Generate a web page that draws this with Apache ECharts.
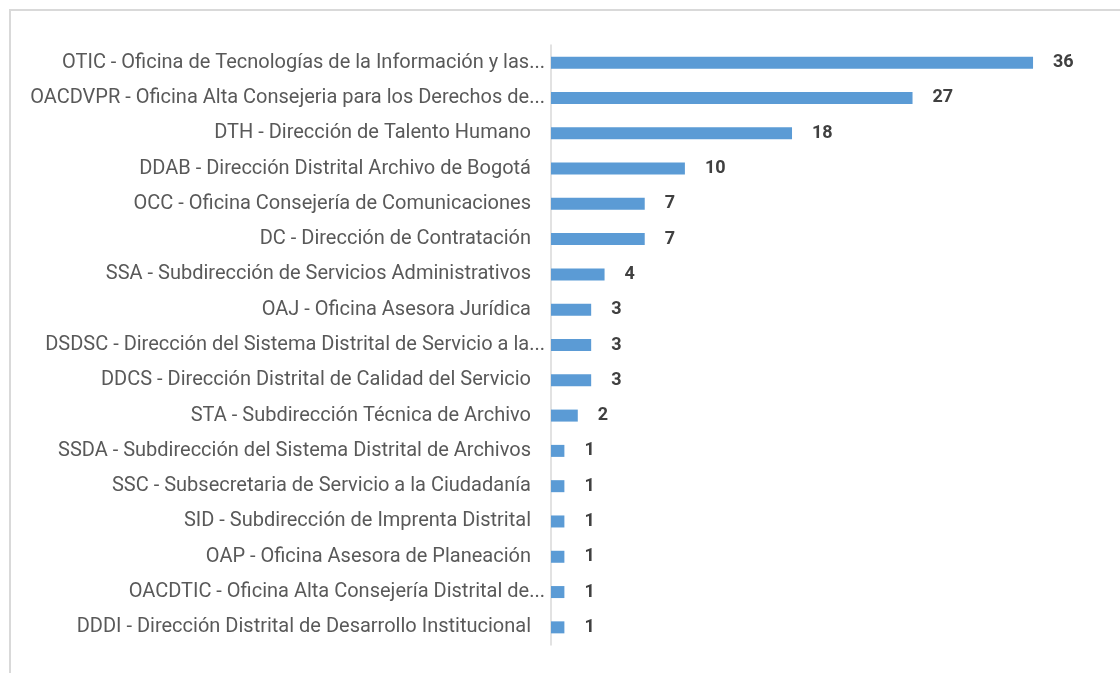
<!DOCTYPE html>
<html>
<head>
<meta charset="utf-8">
<script src="https://cdn.jsdelivr.net/npm/echarts@6/dist/echarts.min.js"></script>
<style>
  html, body { margin: 0; padding: 0; background: #fff; }
  #main { width: 1120px; height: 673px; }
</style>
</head>
<body>
<div id="main"></div>
<script>
// dependencias, de arriba hacia abajo
const categorias = [
  'OTIC - Oficina de Tecnologías de la Información y las...',
  'OACDVPR - Oficina Alta Consejeria para los Derechos de...',
  'DTH - Dirección de Talento Humano',
  'DDAB - Dirección Distrital Archivo de Bogotá',
  'OCC - Oficina Consejería de Comunicaciones',
  'DC - Dirección de Contratación',
  'SSA - Subdirección de Servicios Administrativos',
  'OAJ - Oficina Asesora Jurídica',
  'DSDSC - Dirección del Sistema Distrital de Servicio a la...',
  'DDCS - Dirección Distrital de Calidad del Servicio',
  'STA - Subdirección Técnica de Archivo',
  'SSDA - Subdirección del Sistema Distrital de Archivos',
  'SSC - Subsecretaria de Servicio a la Ciudadanía',
  'SID - Subdirección de Imprenta Distrital',
  'OAP - Oficina Asesora de Planeación',
  'OACDTIC - Oficina Alta Consejería Distrital de...',
  'DDDI - Dirección Distrital de Desarrollo Institucional'
]
const valores = [36, 27, 18, 10, 7, 7, 4, 3, 3, 3, 2, 1, 1, 1, 1, 1, 1]

;(function () {
  let myChart = echarts.init(document.getElementById('main'))
  const fuente = 'Roboto, sans-serif'
  let options = {
    animation: false,
    graphic: [
      {
        type: 'rect',
        shape: { x: 10, y: 10, width: 1130, height: 700 },
        style: { fill: 'none', stroke: '#d9d9d9', lineWidth: 2 },
      },
    ],
    grid: {
      left: 551,
      top: 45,
      width: 535.6,
      height: 600,
    },
    xAxis: {
      type: 'value',
      min: 0,
      max: 40,
      show: false,
    },
    yAxis: {
      type: 'category',
      data: categorias,
      inverse: true,
      axisTick: { show: false },
      axisLine: {
        lineStyle: { color: '#d9d9d9', width: 1.5 },
      },
      axisLabel: {
        margin: 6,
        color: '#595959',
        fontSize: 20,
        fontFamily: fuente,
        formatter: function (v) {
          // las etiquetas completas quedan un poco más a la izquierda
          return v.endsWith('...') ? v : '{p|' + v + '}'
        },
        rich: {
          p: {
            color: '#595959',
            fontSize: 20,
            fontFamily: fuente,
            padding: [0, 14, 0, 0],
          },
        },
      },
    },
    series: [
      {
        type: 'bar',
        data: valores,
        barWidth: 12,
        itemStyle: { color: '#5b9bd5' },
        label: {
          show: true,
          position: 'right',
          distance: 20,
          color: '#404040',
          fontSize: 18,
          fontWeight: 'bold',
          fontFamily: fuente,
        },
      },
    ],
  }
  myChart.setOption(options)
})()
</script>
</body>
</html>
